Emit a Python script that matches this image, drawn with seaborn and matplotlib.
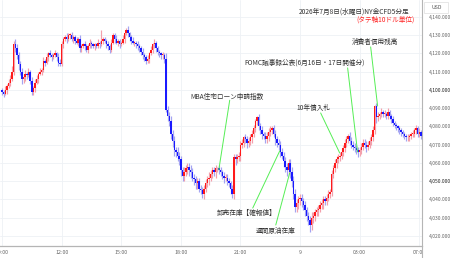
import numpy as np
import pandas as pd
import matplotlib
matplotlib.use("Agg")
import matplotlib.pyplot as plt
from matplotlib.lines import Line2D
from matplotlib.patches import Rectangle
from matplotlib.transforms import Bbox, TransformedBbox
import seaborn as sns

# ---------------- data ----------------
first_open = 4100.0
closes = [
    # 09:00
    4099, 4098, 4100, 4102, 4104, 4106, 4110, 4125, 4123, 4119, 4114, 4110,
    # 10:00
    4106, 4107, 4109, 4108, 4110, 4105, 4099, 4101, 4104, 4106, 4109, 4110,
    # 11:00
    4111, 4116, 4115, 4118, 4120, 4119, 4118, 4119, 4120, 4118, 4115, 4114,
    # 12:00
    4125, 4128, 4129, 4128, 4130, 4130, 4128, 4129, 4127, 4126, 4128, 4123,
    # 13:00
    4124, 4125, 4124, 4122, 4124, 4126, 4125, 4124, 4125, 4124, 4126, 4125,
    # 14:00
    4127, 4128, 4127, 4125, 4124, 4122, 4126, 4130, 4128, 4126, 4127, 4125,
    # 15:00
    4126, 4128, 4131, 4133, 4131, 4129, 4127, 4126, 4126, 4125, 4124, 4123,
    # 16:00
    4121, 4119, 4118, 4116, 4117, 4120, 4122, 4125, 4126, 4123, 4121, 4120,
    # 17:00
    4119, 4119, 4117, 4089, 4086, 4083, 4076, 4072, 4067, 4066, 4064, 4062,
    # 18:00
    4056, 4053, 4055, 4057, 4058, 4056, 4055, 4052, 4051, 4049, 4050, 4046,
    # 19:00
    4045, 4043, 4046, 4049, 4051, 4052, 4054, 4056, 4055, 4057, 4057, 4056,
    # 20:00
    4055, 4053, 4052, 4052, 4050, 4049, 4046, 4043, 4063, 4062, 4063, 4064,
    # 21:00
    4070, 4071, 4074, 4073, 4071, 4072, 4074, 4076, 4079, 4083, 4085, 4080,
    # 22:00
    4078, 4076, 4075, 4073, 4075, 4077, 4078, 4079, 4076, 4073, 4071, 4070,
    # 23:00
    4066, 4064, 4061, 4058, 4056, 4060, 4055, 4050, 4043, 4036, 4038, 4040,
    # 00:00
    4041, 4039, 4037, 4034, 4031, 4029, 4026, 4030, 4031, 4033, 4034, 4035,
    # 01:00
    4037, 4038, 4040, 4039, 4041, 4043, 4044, 4054, 4057, 4060, 4062, 4063,
    # 02:00
    4064, 4066, 4068, 4071, 4073, 4075, 4072, 4070, 4069, 4068, 4067, 4066,
    # 03:00
    4067, 4069, 4071, 4070, 4069, 4070, 4072, 4074, 4078, 4091, 4085, 4086,
    # 04:00
    4087, 4088, 4087, 4087, 4086, 4088, 4086, 4084, 4082, 4081, 4080, 4079,
    # 05:00
    4078, 4077, 4076, 4075, 4074, 4074, 4075, 4076, 4076, 4078, 4079, 4076,
    # 07:00
    4077, 4075,
]
up_wick = [
    1, 1, 2, 1, 2, 2, 3, 2, 3, 2, 2, 2,
    2, 1, 2, 1, 2, 1, 2, 1, 2, 2, 1, 2,
    1, 2, 1, 2, 1, 2, 1, 1, 2, 1, 2, 2,
    2, 1, 1, 2, 1, 1, 2, 1, 1, 2, 1, 2,
    1, 1, 2, 1, 1, 2, 1, 1, 1, 1, 2, 1,
    6, 1, 1, 1, 2, 1, 2, 1, 1, 2, 1, 1,
    1, 2, 1, 1, 2, 1, 1, 2, 1, 1, 2, 1,
    1, 2, 1, 1, 2, 1, 2, 1, 2, 1, 1, 1,
    1, 2, 1, 3, 2, 2, 3, 2, 3, 2, 3, 2,
    2, 2, 3, 2, 2, 2, 3, 2, 2, 2, 2, 2,
    2, 2, 2, 2, 2, 3, 2, 2, 2, 2, 1, 2,
    2, 1, 2, 2, 2, 2, 1, 2, 2, 2, 2, 2,
    2, 2, 1, 2, 2, 2, 2, 2, 2, 1, 1, 2,
    2, 2, 1, 2, 2, 2, 2, 1, 2, 2, 2, 2,
    2, 2, 2, 2, 2, 2, 2, 3, 3, 3, 2, 2,
    2, 2, 2, 2, 2, 2, 2, 3, 2, 2, 2, 2,
    2, 2, 2, 2, 2, 2, 2, 2, 2, 2, 2, 2,
    2, 2, 2, 2, 2, 1, 2, 2, 2, 2, 2, 2,
    2, 2, 2, 2, 2, 2, 2, 2, 2, 1, 2, 2,
    1, 2, 1, 2, 1, 2, 1, 1, 2, 1, 1, 1,
    1, 1, 1, 1, 1, 2, 1, 1, 2, 1, 2, 1,
    2, 1,
]
dn_wick = [
    2, 2, 1, 2, 1, 2, 1, 2, 2, 2, 3, 2,
    3, 2, 2, 2, 1, 2, 2, 2, 2, 1, 2, 1,
    2, 1, 2, 1, 2, 1, 2, 1, 1, 2, 2, 1,
    1, 2, 1, 2, 1, 2, 1, 2, 2, 1, 2, 2,
    2, 1, 2, 1, 2, 1, 2, 1, 2, 1, 1, 2,
    1, 2, 1, 2, 2, 2, 1, 1, 2, 1, 2, 2,
    1, 1, 2, 1, 2, 2, 2, 1, 2, 2, 2, 2,
    2, 2, 2, 2, 1, 2, 1, 2, 2, 2, 2, 2,
    2, 2, 2, 1, 3, 3, 3, 3, 3, 3, 3, 3,
    3, 3, 3, 2, 3, 3, 3, 2, 3, 3, 3, 2,
    2, 2, 3, 2, 2, 3, 2, 2, 2, 3, 2, 2,
    2, 2, 3, 2, 2, 2, 3, 2, 3, 3, 2, 2,
    3, 2, 2, 2, 3, 2, 2, 3, 2, 2, 2, 2,
    2, 3, 2, 2, 2, 3, 2, 2, 2, 3, 2, 3,
    3, 2, 3, 3, 3, 2, 3, 3, 3, 3, 3, 3,
    3, 3, 3, 3, 3, 3, 4, 3, 3, 3, 2, 3,
    2, 2, 3, 2, 2, 2, 2, 2, 2, 2, 3, 2,
    2, 2, 2, 2, 2, 2, 2, 2, 2, 2, 2, 3,
    2, 2, 2, 2, 3, 2, 2, 2, 2, 2, 3, 2,
    2, 2, 2, 2, 2, 2, 2, 2, 2, 2, 2, 2,
    2, 2, 2, 2, 2, 2, 2, 2, 2, 2, 2, 2,
    2, 2,
]
x_tick_pos = [0, 36, 72, 108, 144, 180, 216, 252]
x_tick_labels = ["09:00", "12:00", "15:00", "18:00", "21:00", "9", "03:00", "07:00"]
price_ticks = [4020, 4030, 4040, 4050, 4060, 4070, 4080, 4090, 4100, 4110, 4120, 4130, 4140]
strong_ticks = [4050, 4100]

title_line1 = "2026年7月8日(水曜日)NY金CFD5分足"
title_line2 = "(タテ軸10ドル単位)"

# events: label, text position (index, price), line start, line end
events = [
    ("MBA住宅ローン申請指数", (135.7, 4096.3), (137.5, 4094.4), (130.9, 4056.2)),
    ("FOMC議事録公表(6月16日・17日開催分)", (182.7, 4114.8), (208.7, 4112.1), (214.7, 4066.0)),
    ("10年債入札", (188.2, 4090.1), (192.4, 4087.4), (203.9, 4065.5)),
    ("消費者信用残高", (225.0, 4126.3), (222.6, 4123.6), (226.8, 4091.2)),
    ("卸売在庫【確報値】", (147.8, 4032.6), (151.4, 4035.3), (167.7, 4066.6)),
    ("週間原油在庫", (165.3, 4022.7), (165.3, 4026.0), (173.7, 4054.5)),
]

# ---------------- build the table ----------------
df = pd.DataFrame({"close": closes, "up": up_wick, "dn": dn_wick})
df["open"] = [first_open] + closes[:-1]
df["idx"] = np.arange(len(df))
df["top"] = df[["open", "close"]].max(axis=1)
df["bot"] = df[["open", "close"]].min(axis=1)
df["high"] = df["top"] + df["up"]
df["low"] = df["bot"] - df["dn"]
df["rising"] = df["close"] >= df["open"]

# ---------------- style ----------------
sns.set_theme(style="white")
plt.rcParams["font.family"] = ["Noto Sans CJK JP", "DejaVu Sans"]

W, H = 450, 258
fig = plt.figure(figsize=(W / 100, H / 100), dpi=100)
ax = fig.add_axes([0, 1 - 246 / H, 422 / W, 246 / H])

UP, DOWN = "#ff1a1a", "#1a1aff"
UP_W, DOWN_W = "#f3a0ac", "#a4a4f2"

ax.vlines(df["idx"], df["low"], df["high"],
          colors=np.where(df["rising"], UP_W, DOWN_W), linewidth=0.85, zorder=2)
body = (df["close"] - df["open"]).abs().clip(lower=0.5)
ax.bar(df["idx"], body, bottom=df["bot"], width=0.85,
       color=np.where(df["rising"], UP, DOWN), linewidth=0, zorder=3)

ax.set_xlim(-1.2, 253.6)
ax.set_ylim(4014.5, 4149.3)

ax.set_xticks(x_tick_pos)
ax.set_xticklabels(x_tick_labels)
ax.set_yticks(price_ticks)
ax.set_yticklabels([f"{v:,.3f}" for v in price_ticks])
ax.yaxis.tick_right()
ax.tick_params(axis="y", length=0, pad=5, labelsize=3.6, labelcolor="#666666")
ax.tick_params(axis="x", length=0, pad=3, labelsize=3.8, labelcolor="#666666")
for lbl, v in zip(ax.get_yticklabels(), price_ticks):
    if v in strong_ticks:
        lbl.set_color("#222222")

ax.grid(True, color="#eef1f5", linewidth=0.6)
ax.set_axisbelow(True)
for s in ["top", "left"]:
    ax.spines[s].set_visible(False)
ax.spines["bottom"].set_color("#b5b5b5")
ax.spines["bottom"].set_linewidth(0.9)
ax.spines["right"].set_color("#b5b5b5")
ax.spines["right"].set_linewidth(0.8)
fig.add_artist(Line2D([422 / W, 422 / W], [0, 1 - 246 / H], color="#b5b5b5", lw=0.8))

# clip x tick labels to the plot width
clipbox = TransformedBbox(Bbox([[0, 0], [422 / W, 1]]), fig.transFigure)
fig.canvas.draw()
for lbl in ax.get_xticklabels():
    lbl.set_clip_on(True)
    lbl.set_clip_box(clipbox)

# event annotations
for label, tpos, lstart, lend in events:
    ax.text(tpos[0], tpos[1], label, fontsize=4.8, color="#333333",
            ha="center", va="center", zorder=5)
    ax.plot([lstart[0], lend[0]], [lstart[1], lend[1]], color="#55ee55", lw=0.7, zorder=4)

# title texts
fig.text(409 / W, 1 - 12 / H, title_line1, fontsize=4.8, color="#333333", ha="right", va="center")
fig.text(415 / W, 1 - 19.5 / H, title_line2, fontsize=4.8, color="#ff2222", ha="right", va="center")

# USD box
fig.add_artist(Rectangle((424 / W, 1 - 13 / H), 24 / W, 11 / H, transform=fig.transFigure,
                         facecolor="white", edgecolor="#dddddd", lw=0.5))
fig.text(431 / W, 1 - 7.5 / H, "USD", fontsize=3.8, color="#555555", ha="left", va="center")

fig.savefig("out.png", dpi=100)
